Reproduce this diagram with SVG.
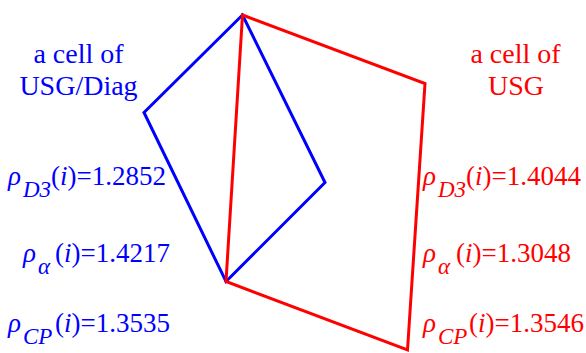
<svg xmlns="http://www.w3.org/2000/svg" width="586" height="353" viewBox="0 0 586 353">
<rect width="586" height="353" fill="#ffffff"/>
<g id="connectors" fill="none" stroke-width="3" stroke-linejoin="miter">
<polygon stroke="#0000ff" points="242.5,15 144,112.5 226,281.5 325,182.5"/>
<polygon stroke="#ff0000" points="242.5,15 425,83.5 407.5,350 226,281.5"/>
</g>
<g id="label-usg-diag" fill="#0000ff">
<text font-family="Liberation Serif, serif" font-size="28" x="78.5" y="63" text-anchor="middle">a cell of</text>
<text font-family="Liberation Serif, serif" font-size="28" x="78.5" y="95" text-anchor="middle">USG/Diag</text>
</g>
<g id="label-usg" fill="#ff0000">
<text font-family="Liberation Serif, serif" font-size="28" x="515.5" y="63" text-anchor="middle">a cell of</text>
<text font-family="Liberation Serif, serif" font-size="28" x="516" y="95" text-anchor="middle">USG</text>
</g>
<g id="left-values" fill="#0000ff">
<text font-family="Liberation Serif, serif" font-size="27" y="185"><tspan font-style="italic" x="8">ρ</tspan><tspan font-style="italic" font-size="23" x="23" y="197">D3</tspan><tspan x="51" y="185">(<tspan font-style="italic">i</tspan>)=1.2852</tspan></text>
<text font-family="Liberation Serif, serif" font-size="27" y="262"><tspan font-style="italic" x="23">ρ</tspan><tspan font-style="italic" font-size="23" x="38" y="274">α</tspan><tspan x="55" y="262">(<tspan font-style="italic">i</tspan>)=1.4217</tspan></text>
<text font-family="Liberation Serif, serif" font-size="27" y="332"><tspan font-style="italic" x="8">ρ</tspan><tspan font-style="italic" font-size="23" x="23" y="344">CP</tspan><tspan x="55" y="332">(<tspan font-style="italic">i</tspan>)=1.3535</tspan></text>
</g>
<g id="right-values" fill="#ff0000">
<text font-family="Liberation Serif, serif" font-size="27" y="185"><tspan font-style="italic" x="423">ρ</tspan><tspan font-style="italic" font-size="23" x="438" y="197">D3</tspan><tspan x="466" y="185">(<tspan font-style="italic">i</tspan>)=1.4044</tspan></text>
<text font-family="Liberation Serif, serif" font-size="27" y="262"><tspan font-style="italic" x="423">ρ</tspan><tspan font-style="italic" font-size="23" x="438" y="274">α</tspan><tspan x="456" y="262">(<tspan font-style="italic">i</tspan>)=1.3048</tspan></text>
<text font-family="Liberation Serif, serif" font-size="27" y="332"><tspan font-style="italic" x="423">ρ</tspan><tspan font-style="italic" font-size="23" x="438" y="344">CP</tspan><tspan x="469" y="332">(<tspan font-style="italic">i</tspan>)=1.3546</tspan></text>
</g>
</svg>
